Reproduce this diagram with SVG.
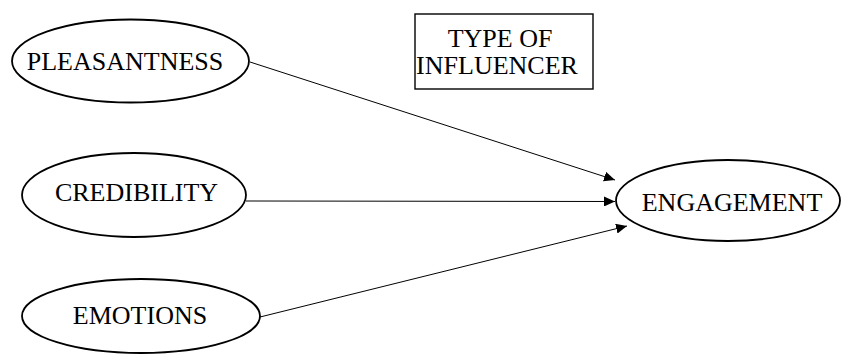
<svg xmlns="http://www.w3.org/2000/svg" width="844" height="356" viewBox="0 0 844 356">
<style>
.node{fill:#fff;stroke:#000;stroke-width:1.8}
.lbl{font-family:"Liberation Serif","Times New Roman",serif;font-size:26px;fill:#000;text-anchor:middle}
.edge{stroke:#000;stroke-width:1;fill:none}
</style>
<defs>
<marker id="arr" markerWidth="12" markerHeight="10" refX="11" refY="5" orient="auto" markerUnits="userSpaceOnUse">
<path d="M0,0 L11,5 L0,10 Z" fill="#000"/>
</marker>
</defs>
<rect width="844" height="356" fill="#fff"/>
<g id="connectors">
<line class="edge" x1="250" y1="62" x2="615" y2="180" marker-end="url(#arr)"/>
<line class="edge" x1="246" y1="201" x2="615" y2="201.5" stroke="#555" marker-end="url(#arr)"/>
<line class="edge" x1="260" y1="317" x2="627" y2="226" marker-end="url(#arr)"/>
</g>
<g id="pleasantness">
<ellipse class="node" cx="130.5" cy="61" rx="118.5" ry="41.5"/>
<text class="lbl" x="125" y="70">PLEASANTNESS</text>
</g>
<g id="credibility">
<ellipse class="node" cx="134" cy="195" rx="112" ry="42"/>
<text class="lbl" x="136.5" y="201">CREDIBILITY</text>
</g>
<g id="emotions">
<ellipse class="node" cx="141" cy="316" rx="119" ry="37"/>
<text class="lbl" x="140" y="324">EMOTIONS</text>
</g>
<g id="engagement">
<ellipse class="node" cx="728" cy="200.5" rx="112" ry="40.5"/>
<text class="lbl" x="732" y="211">ENGAGEMENT</text>
</g>
<g id="type-of-influencer">
<rect x="415" y="14" width="178" height="75" fill="#fff" stroke="#000" stroke-width="1.4"/>
<text class="lbl" x="500" y="46.5">TYPE OF</text>
<text class="lbl" x="497" y="74">INFLUENCER</text>
</g>
</svg>
